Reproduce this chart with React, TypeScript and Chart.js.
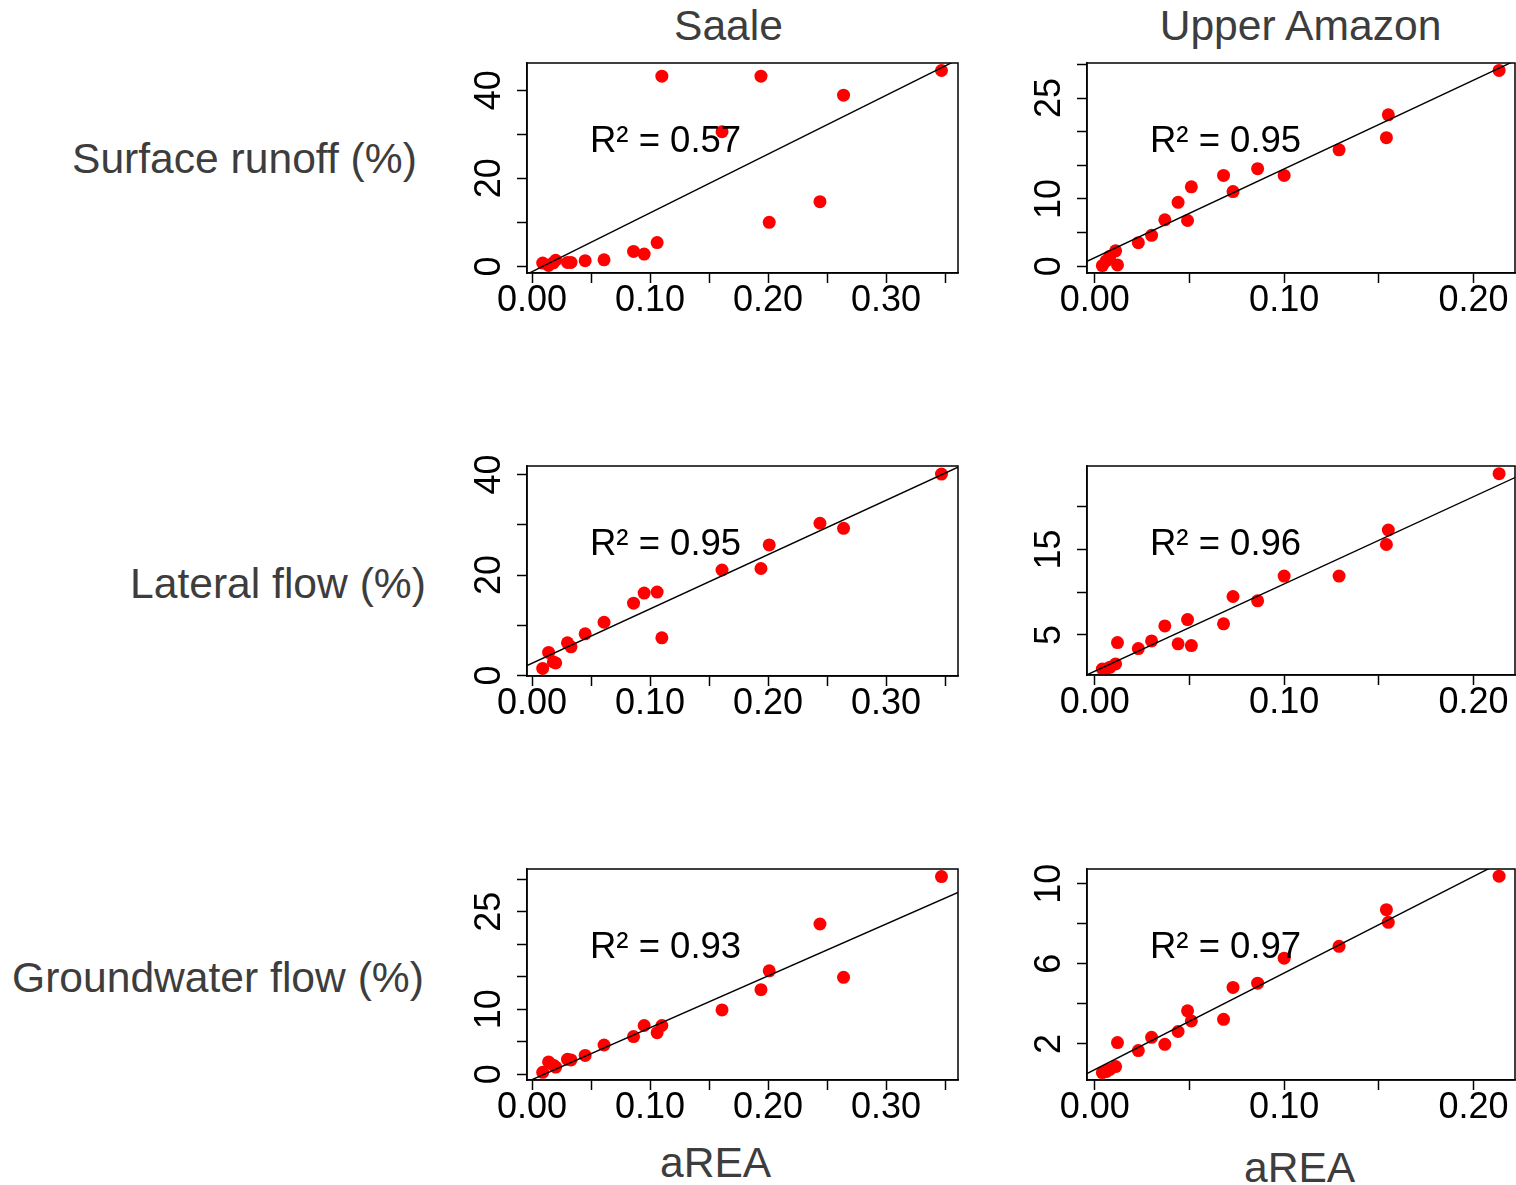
import React, { useEffect, useRef } from 'react';
import { Chart, registerables } from 'chart.js';
Chart.register(...registerables);

// ---------- data ----------
const saaleArea = [0.009, 0.014, 0.018, 0.020, 0.030, 0.033, 0.045, 0.061, 0.086, 0.095, 0.106, 0.110, 0.161, 0.194, 0.201, 0.244, 0.264, 0.347];
const saaleSurface = [0.75, 0.2, 0.8, 1.4, 0.9, 0.9, 1.3, 1.5, 3.4, 2.8, 5.4, 43.2, 30.6, 43.2, 10.0, 14.7, 38.9, 44.5];
const saaleLateral = [1.4, 4.6, 2.7, 2.5, 6.5, 5.7, 8.3, 10.6, 14.4, 16.4, 16.6, 7.5, 21.0, 21.3, 26.0, 30.3, 29.3, 40.1];
const saaleGround = [0.3, 1.9, 1.4, 1.1, 2.3, 2.2, 2.9, 4.5, 5.8, 7.5, 6.4, 7.5, 9.9, 13.0, 15.9, 23.1, 14.9, 30.4];

const amazonArea = [0.004, 0.006, 0.008, 0.011, 0.012, 0.023, 0.030, 0.037, 0.044, 0.049, 0.051, 0.068, 0.073, 0.086, 0.100, 0.129, 0.154, 0.155, 0.2135];
const amazonSurface = [0.1, 0.8, 1.5, 2.3, 0.2, 3.5, 4.6, 6.9, 9.5, 6.8, 11.8, 13.5, 11.1, 14.5, 13.5, 17.3, 19.1, 22.5, 29.1];
const amazonLateral = [1.0, 1.0, 1.2, 1.6, 4.1, 3.4, 4.3, 6.05, 3.95, 6.8, 3.75, 6.3, 9.5, 9.0, 11.9, 11.9, 15.6, 17.3, 23.9];
const amazonGround = [0.57, 0.62, 0.73, 0.87, 2.07, 1.67, 2.33, 1.98, 2.62, 3.65, 3.15, 3.23, 4.82, 5.03, 6.28, 6.87, 8.7, 8.07, 10.37];

// fitted lines (slope, intercept) and R² labels, panels in reading order
const fitSlopes = [133.5, 131.9, 108.1, 102.3, 79.7, 48.2];
const fitIntercepts = [-1.2, 1.27, 2.44, 0.74, -0.82, 0.72];
const rSquaredLabels = ['0.57', '0.95', '0.95', '0.96', '0.93', '0.97'];

const columnTitles = ['Saale', 'Upper Amazon'];
const rowTitles = ['Surface runoff (%)', 'Lateral flow (%)', 'Groundwater flow (%)'];
const xAxisTitle = 'aREA';

const saaleXTickLabels = [0, 0.1, 0.2, 0.3];
const amazonXTickLabels = [0, 0.1, 0.2];
const yTickLabels = [
  [0, 20, 40],
  [0, 10, 25],
  [0, 20, 40],
  [5, 15],
  [0, 10, 25],
  [2, 6, 10],
];
const yTickSteps = [10, 5, 10, 5, 5, 2];

// ---------- layout ----------
const FONT = '"Liberation Sans", Arial, Helvetica, sans-serif';
const TEXT_GREY = '#3d3d3d';

type Box = { left: number; top: number; width: number; height: number };
type Panel = {
  x: number[];
  y: number[];
  idx: number;
  xMin: number;
  xMax: number;
  yMin: number;
  yMax: number;
  xLabels: number[];
  box: Box;
};

const panels: Panel[] = [
  { x: saaleArea, y: saaleSurface, idx: 0, xMin: -0.0043, xMax: 0.361, yMin: -1.5, yMax: 46.2, xLabels: saaleXTickLabels, box: { left: 527, top: 63, width: 431, height: 210 } },
  { x: amazonArea, y: amazonSurface, idx: 1, xMin: -0.0041, xMax: 0.2219, yMin: -1.0, yMax: 30.2, xLabels: amazonXTickLabels, box: { left: 1087, top: 63, width: 428, height: 210 } },
  { x: saaleArea, y: saaleLateral, idx: 2, xMin: -0.0043, xMax: 0.361, yMin: -0.1, yMax: 41.7, xLabels: saaleXTickLabels, box: { left: 527, top: 466, width: 431, height: 210 } },
  { x: amazonArea, y: amazonLateral, idx: 3, xMin: -0.0041, xMax: 0.2219, yMin: 0.3, yMax: 24.8, xLabels: amazonXTickLabels, box: { left: 1087, top: 466, width: 428, height: 209 } },
  { x: saaleArea, y: saaleGround, idx: 4, xMin: -0.0043, xMax: 0.361, yMin: -0.88, yMax: 31.56, xLabels: saaleXTickLabels, box: { left: 527, top: 869, width: 431, height: 211 } },
  { x: amazonArea, y: amazonGround, idx: 5, xMin: -0.0041, xMax: 0.2219, yMin: 0.2, yMax: 10.73, xLabels: amazonXTickLabels, box: { left: 1087, top: 869, width: 428, height: 211 } },
];

const Y_AXIS_W = 70;
const TOP_PAD = 40;
const X_AXIS_H = 60;
const RIGHT_PAD = 40;

const framePlugin = {
  id: 'frameAndR2',
  afterDatasetsDraw(chart: any, _args: any, opts: any) {
    const { ctx, chartArea } = chart;
    ctx.save();
    ctx.strokeStyle = '#000';
    ctx.lineWidth = 1.5;
    ctx.strokeRect(chartArea.left, chartArea.top, chartArea.right - chartArea.left, chartArea.bottom - chartArea.top);
    ctx.fillStyle = '#000';
    ctx.font = `36.5px ${FONT}`;
    ctx.textAlign = 'left';
    ctx.textBaseline = 'alphabetic';
    ctx.fillText(opts.text, chartArea.left + 63, chartArea.top + 89);
    ctx.restore();
  },
};

function hasLabel(list: number[], v: number) {
  return list.some((l) => Math.abs(l - v) < 1e-7);
}

function PanelChart({ p }: { p: Panel }) {
  const ref = useRef<HTMLCanvasElement | null>(null);
  const cw = p.box.width + Y_AXIS_W + RIGHT_PAD;
  const ch = p.box.height + TOP_PAD + X_AXIS_H;

  useEffect(() => {
    if (!ref.current) return;
    const slope = fitSlopes[p.idx];
    const intercept = fitIntercepts[p.idx];
    const points = p.x.map((xv, i) => ({ x: xv, y: p.y[i] }));
    const line = [p.xMin, p.xMax].map((xv) => ({ x: xv, y: intercept + slope * xv }));
    const yLabels = yTickLabels[p.idx];

    const chart = new Chart(ref.current, {
      type: 'scatter',
      data: {
        datasets: [
          {
            type: 'line',
            data: line,
            borderColor: '#000',
            borderWidth: 1.4,
            pointRadius: 0,
            fill: false,
            order: 0,
          } as any,
          {
            type: 'scatter',
            data: points,
            backgroundColor: '#ff0000',
            borderWidth: 0,
            pointRadius: 6.5,
            order: 1,
          } as any,
        ],
      },
      options: {
        animation: false,
        responsive: false,
        maintainAspectRatio: false,
        events: [],
        layout: { padding: { left: 0, top: TOP_PAD, right: RIGHT_PAD, bottom: 0 } },
        plugins: {
          legend: { display: false },
          tooltip: { enabled: false },
          frameAndR2: { text: `R\u00B2 = ${rSquaredLabels[p.idx]}` },
        } as any,
        scales: {
          x: {
            type: 'linear',
            min: p.xMin,
            max: p.xMax,
            grid: { drawOnChartArea: false, drawTicks: true, tickLength: 10, tickWidth: 1.5, tickColor: '#000' },
            border: { display: true, color: '#000', width: 1.5 },
            ticks: {
              stepSize: 0.05,
              includeBounds: false,
              autoSkip: false,
              maxRotation: 0,
              minRotation: 0,
              padding: -4,
              color: '#000',
              font: { family: FONT, size: 36 },
              callback: (v: any) => (hasLabel(p.xLabels, Number(v)) ? Number(v).toFixed(2) : ''),
            },
            afterFit: (s: any) => {
              s.height = X_AXIS_H;
              s.paddingLeft = 0;
              s.paddingRight = 0;
            },
          },
          y: {
            type: 'linear',
            min: p.yMin,
            max: p.yMax,
            grid: { drawOnChartArea: false, drawTicks: true, tickLength: 10, tickWidth: 1.5, tickColor: '#000' },
            border: { display: true, color: '#000', width: 1.5 },
            ticks: {
              stepSize: yTickSteps[p.idx],
              includeBounds: false,
              autoSkip: false,
              minRotation: 90,
              maxRotation: 90,
              crossAlign: 'center',
              padding: 7,
              color: '#000',
              font: { family: FONT, size: 36 },
              callback: (v: any) => (hasLabel(yLabels, Number(v)) ? String(Math.round(Number(v))) : ''),
            },
            afterFit: (s: any) => {
              s.width = Y_AXIS_W;
              s.paddingTop = 0;
              s.paddingBottom = 0;
            },
          },
        },
      } as any,
      plugins: [framePlugin],
    });
    return () => chart.destroy();
  }, [p]);

  return (
    <canvas
      ref={ref}
      width={cw}
      height={ch}
      style={{
        position: 'absolute',
        left: p.box.left - Y_AXIS_W,
        top: p.box.top - TOP_PAD,
        width: cw,
        height: ch,
      }}
    />
  );
}

const labelStyle = (left: number, baseline: number, extra: React.CSSProperties = {}): React.CSSProperties => ({
  position: 'absolute',
  left,
  top: baseline - 36.1,
  fontFamily: FONT,
  fontSize: 42.6,
  lineHeight: '42.6px',
  color: TEXT_GREY,
  whiteSpace: 'nowrap',
  ...extra,
});

export default function App() {
  return (
    <div
      style={{
        position: 'absolute',
        left: 0,
        top: 0,
        width: 1516,
        height: 1185,
        background: '#fff',
        overflow: 'hidden',
      }}
    >
      <div style={labelStyle(728.5, 40, { transform: 'translateX(-50%)' })}>{columnTitles[0]}</div>
      <div style={labelStyle(1300.5, 40, { transform: 'translateX(-50%)' })}>{columnTitles[1]}</div>
      <div style={labelStyle(72, 173)}>{rowTitles[0]}</div>
      <div style={labelStyle(130, 598)}>{rowTitles[1]}</div>
      <div style={labelStyle(12, 992)}>{rowTitles[2]}</div>
      <div style={labelStyle(660, 1177)}>{xAxisTitle}</div>
      <div style={labelStyle(1244, 1182)}>{xAxisTitle}</div>
      {panels.map((p) => (
        <PanelChart key={p.idx} p={p} />
      ))}
    </div>
  );
}
